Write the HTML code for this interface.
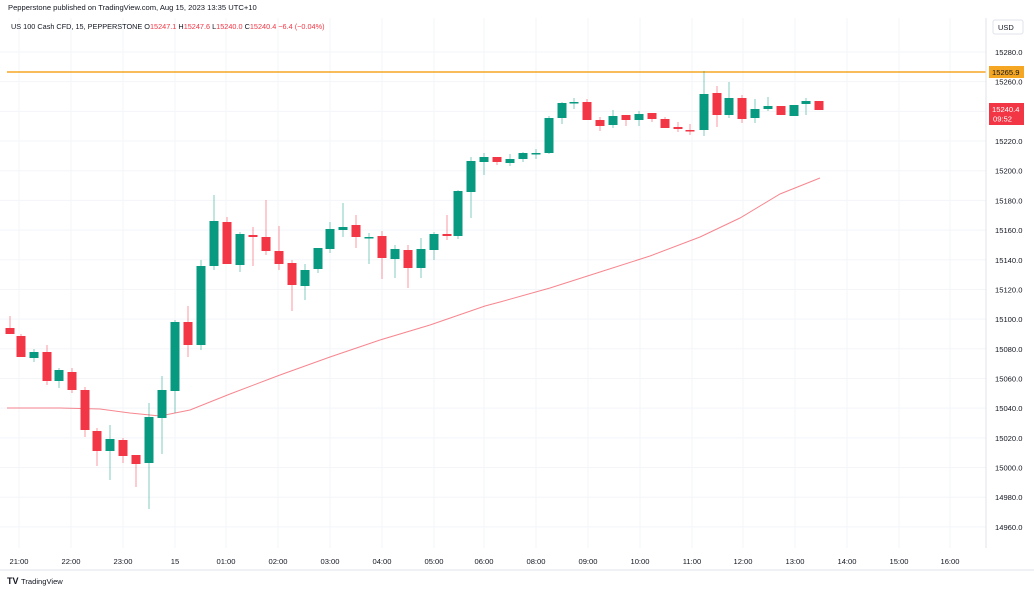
<!DOCTYPE html>
<html><head><meta charset="utf-8"><style>
body{margin:0;background:#fff;width:1034px;height:592px;overflow:hidden;font-family:"Liberation Sans",sans-serif}
</style></head><body>
<svg width="1034" height="592" xmlns="http://www.w3.org/2000/svg" font-family="Liberation Sans, sans-serif">
<rect width="1034" height="592" fill="#fff"/>
<g id="grid" stroke="#f3f5f9" stroke-width="1"></g>
<line x1="7" y1="72" x2="986" y2="72" stroke="#f5a623" stroke-width="1.5"/>
<polyline fill="none" stroke="#f23645" stroke-opacity="0.6" stroke-width="1" points="7,408 60,408 100,409 130,413 160,416 190,410 230,394 280,375 330,357 380,340 430,325 485,306 500,302 550,288 600,272 650,256 700,237 740,218 780,194 820,178"/>
<g id="candles"></g>
<line x1="986" y1="18" x2="986" y2="548" stroke="#e0e3eb"/>
<line x1="0" y1="570" x2="1034" y2="570" stroke="#e0e3eb"/>
<text x="8" y="10" font-size="7.6" fill="#131722">Pepperstone published on TradingView.com, Aug 15, 2023 13:35 UTC+10</text>
<text x="11" y="29" font-size="7.3" fill="#131722">US 100 Cash CFD, 15, PEPPERSTONE <tspan>O</tspan><tspan fill="#f23645">15247.1</tspan> <tspan>H</tspan><tspan fill="#f23645">15247.6</tspan> <tspan>L</tspan><tspan fill="#f23645">15240.0</tspan> <tspan>C</tspan><tspan fill="#f23645">15240.4 −6.4 (−0.04%)</tspan></text>
<rect x="993" y="20" width="30" height="14" rx="2" fill="#fff" stroke="#e0e3eb"/>
<text x="998" y="30" font-size="7.5" fill="#131722">USD</text>
<g id="plab" font-size="7.6" fill="#131722"></g>
<rect x="989" y="66" width="35" height="12" fill="#f5a623"/>
<text x="992" y="75" font-size="7.6" fill="#131722">15265.9</text>
<rect x="989" y="103" width="35" height="22" fill="#f23645"/>
<text x="992" y="112" font-size="7.6" fill="#fff">15240.4</text>
<text x="993" y="121.5" font-size="7.6" fill="#fff">09:52</text>
<g id="tlab" font-size="7.6" fill="#131722" text-anchor="middle"></g>
<text x="7" y="584" font-size="9" font-weight="bold" fill="#131722">TV</text>
<text x="21" y="584" font-size="7.6" fill="#131722">TradingView</text>
</svg>
<script>
var ns="http://www.w3.org/2000/svg";
function el(p,t,a,txt){var e=document.createElementNS(ns,t);for(var k in a)e.setAttribute(k,a[k]);if(txt)e.textContent=txt;document.getElementById(p).appendChild(e);}
var xs=[19,71,123,175,226,278,330,382,434,484,536,588,640,692,743,795,847,899,950];
var tl=["21:00","22:00","23:00","15","01:00","02:00","03:00","04:00","05:00","06:00","08:00","09:00","10:00","11:00","12:00","13:00","14:00","15:00","16:00"];
xs.forEach(function(x,i){el("grid","line",{x1:x,y1:18,x2:x,y2:548});el("tlab","text",{x:x,y:564},tl[i]);});
for(var p=15280;p>=14960;p-=20){var y=52+(15280-p)*1.484;el("grid","line",{x1:0,y1:y,x2:986,y2:y});el("plab","text",{x:995,y:y+3},p.toFixed(1));}
var C=[[10,328,334,316,334,0],[21,336,357,334,357,0],[34,352,358,349,362,1],[47,352,381,345,385,0],[59,370,381,368,388,1],[72,372,390,368,393,0],[85,390,430,387,437,0],[97,431,451,428,466,0],[110,439,451,425,480,1],[123,440,456,438,463,0],[136,455,464,455,487,0],[149,417,463,403,509,1],[162,390,418,376,454,1],[175,322,391,320,413,1],[188,322,345,306,357,0],[201,266,345,260,350,1],[214,221,266,195,270,1],[227,222,264,217,264,0],[240,234,265,232,272,1],[253,235,237,227,266,0],[266,237,251,200,255,0],[279,251,264,226,270,0],[292,263,285,260,311,0],[305,270,286,264,300,1],[318,248,269,248,273,1],[330,229,249,222,253,1],[343,227,230,203,237,1],[356,225,237,215,248,0],[369,237,238,233,264,1],[382,236,258,231,279,0],[395,249,259,245,278,1],[408,250,268,245,288,0],[421,249,268,238,278,1],[434,234,250,232,260,1],[447,234,236,215,240,0],[458,191,236,190,239,1],[471,161,192,157,218,1],[484,157,162,153,175,1],[497,157,162,157,165,0],[510,159,163,154,166,1],[523,153,159,152,162,1],[536,153,154,149,159,1],[549,118,153,116,154,1],[562,103,118,102,124,1],[574,102,103,98,109,1],[587,102,120,99,120,0],[600,120,126,117,131,0],[613,116,125,110,128,1],[626,115,120,115,126,0],[639,114,120,111,126,1],[652,113,119,113,122,0],[665,119,128,117,128,0],[678,127,129,122,132,0],[690,130,131,124,135,0],[704,94,130,71,136,1],[717,93,115,86,127,0],[729,98,115,82,118,1],[742,98,119,95,123,0],[755,109,118,99,123,1],[768,106,109,97,111,1],[781,106,115,106,115,0],[794,105,116,105,116,1],[806,101,104,98,115,1],[819,101,110,101,110,0]];
C.forEach(function(c){var col=c[5]?"#089981":"#f23645";
el("candles","line",{x1:c[0],y1:c[3],x2:c[0],y2:c[4],stroke:col,"stroke-opacity":0.5,"stroke-width":1});
el("candles","rect",{x:c[0]-4.5,y:c[1],width:9,height:Math.max(1.5,c[2]-c[1]),fill:col});});
</script>
</body></html>
